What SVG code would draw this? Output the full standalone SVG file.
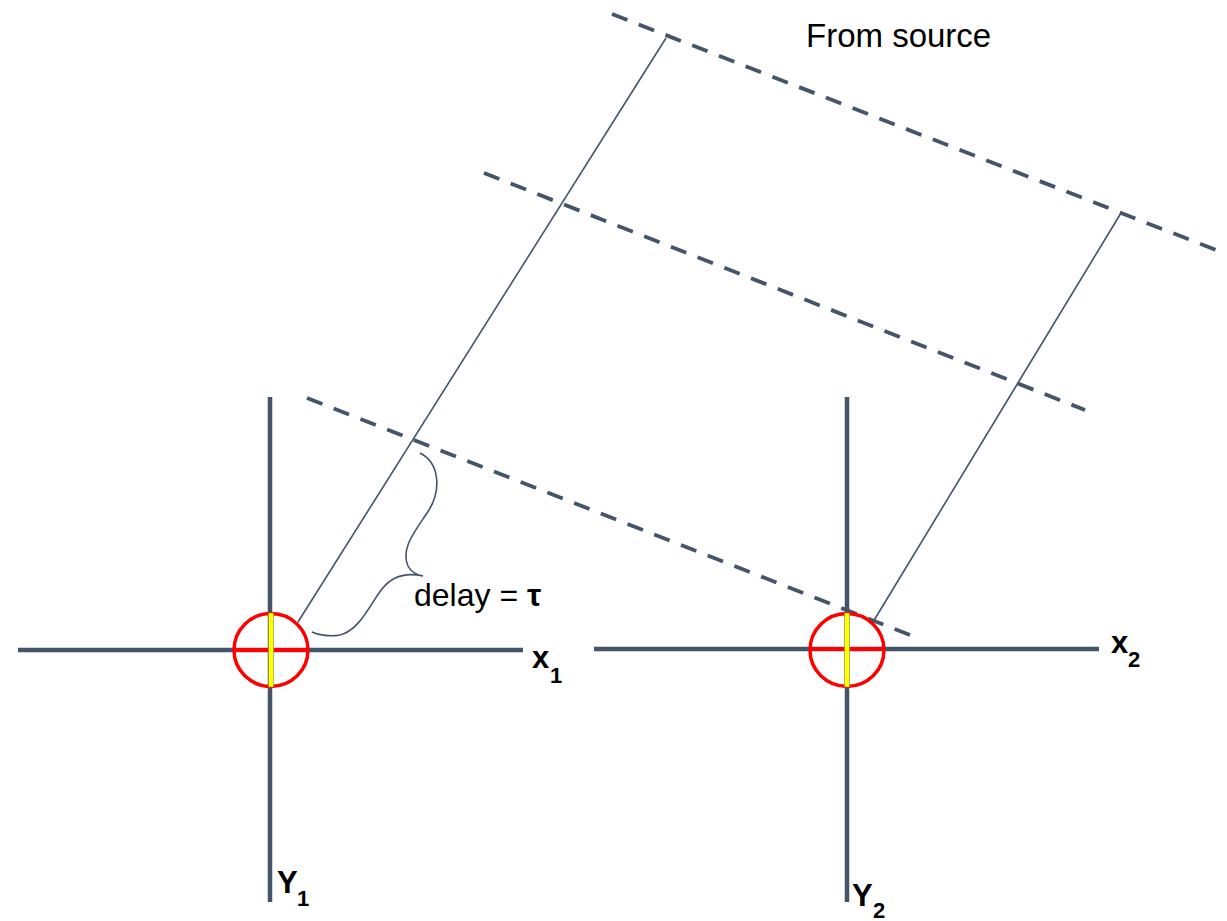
<svg xmlns="http://www.w3.org/2000/svg" width="1227" height="921" viewBox="0 0 1227 921">
<style>
.axis{stroke:#44546A;stroke-width:4.5;fill:none}
.wave{stroke:#44546A;stroke-width:3.8;stroke-dasharray:16.5 12.2;fill:none}
.ray{stroke:#44546A;stroke-width:1.6;fill:none}
.ring{stroke:#FF0000;stroke-width:3.5;fill:none}
.bar{stroke:#FF0000;stroke-width:4}
.yel{fill:#FFFF00;stroke:#8a8a40;stroke-width:0.6}
.t{font-family:"Liberation Sans",Arial,sans-serif;fill:#000}
.b{font-family:"Liberation Sans",Arial,sans-serif;font-weight:bold;fill:#000}
</style>
<rect width="1227" height="921" fill="#fff"/>
<g id="connectors">
<line class="wave" x1="612" y1="14" x2="1216" y2="250"/>
<line class="wave" x1="484" y1="173" x2="1085" y2="410"/>
<line class="wave" x1="307" y1="398" x2="910" y2="635"/>
<line class="ray" x1="298" y1="622" x2="666" y2="38"/>
<line class="ray" x1="873" y1="622" x2="1121" y2="213"/>
<path class="ray" d="M420,453 C440,463 441,490 429,510 C416,530 400,548 408,566 C411,572 417,575 423,576 C405,572 392,576 382,589 C370,604 360,630 340,635 C330,637 318,635 312,632"/>
</g>
<g id="sensor1">
<line class="axis" x1="270" y1="397" x2="270" y2="902"/>
<line class="axis" x1="18" y1="650" x2="523" y2="650"/>
<ellipse class="ring" cx="271" cy="650" rx="37" ry="36.5"/>
<line class="bar" x1="234" y1="650" x2="308" y2="650"/>
<rect class="yel" x="268.5" y="613" width="5" height="74"/>
</g>
<g id="sensor2">
<line class="axis" x1="847" y1="397" x2="847" y2="902"/>
<line class="axis" x1="594" y1="649" x2="1099" y2="649"/>
<ellipse class="ring" cx="847" cy="650" rx="37" ry="36.5"/>
<line class="bar" x1="810" y1="649" x2="884" y2="649"/>
<rect class="yel" x="844.5" y="613" width="5" height="74"/>
</g>
<g id="labels">
<text class="t" x="806" y="47" font-size="33">From source</text>
<text class="t" x="414" y="606" font-size="32">delay = <tspan class="b">τ</tspan></text>
<text class="b" x="532" y="668" font-size="31">x</text>
<text class="b" x="550" y="683" font-size="22">1</text>
<text class="b" x="1111" y="653" font-size="31">x</text>
<text class="b" x="1128" y="667" font-size="22">2</text>
<text class="b" x="277" y="893" font-size="31">Y</text>
<text class="b" x="297" y="906" font-size="22">1</text>
<text class="b" x="852" y="906" font-size="31">Y</text>
<text class="b" x="873" y="918" font-size="22">2</text>
</g>
</svg>
